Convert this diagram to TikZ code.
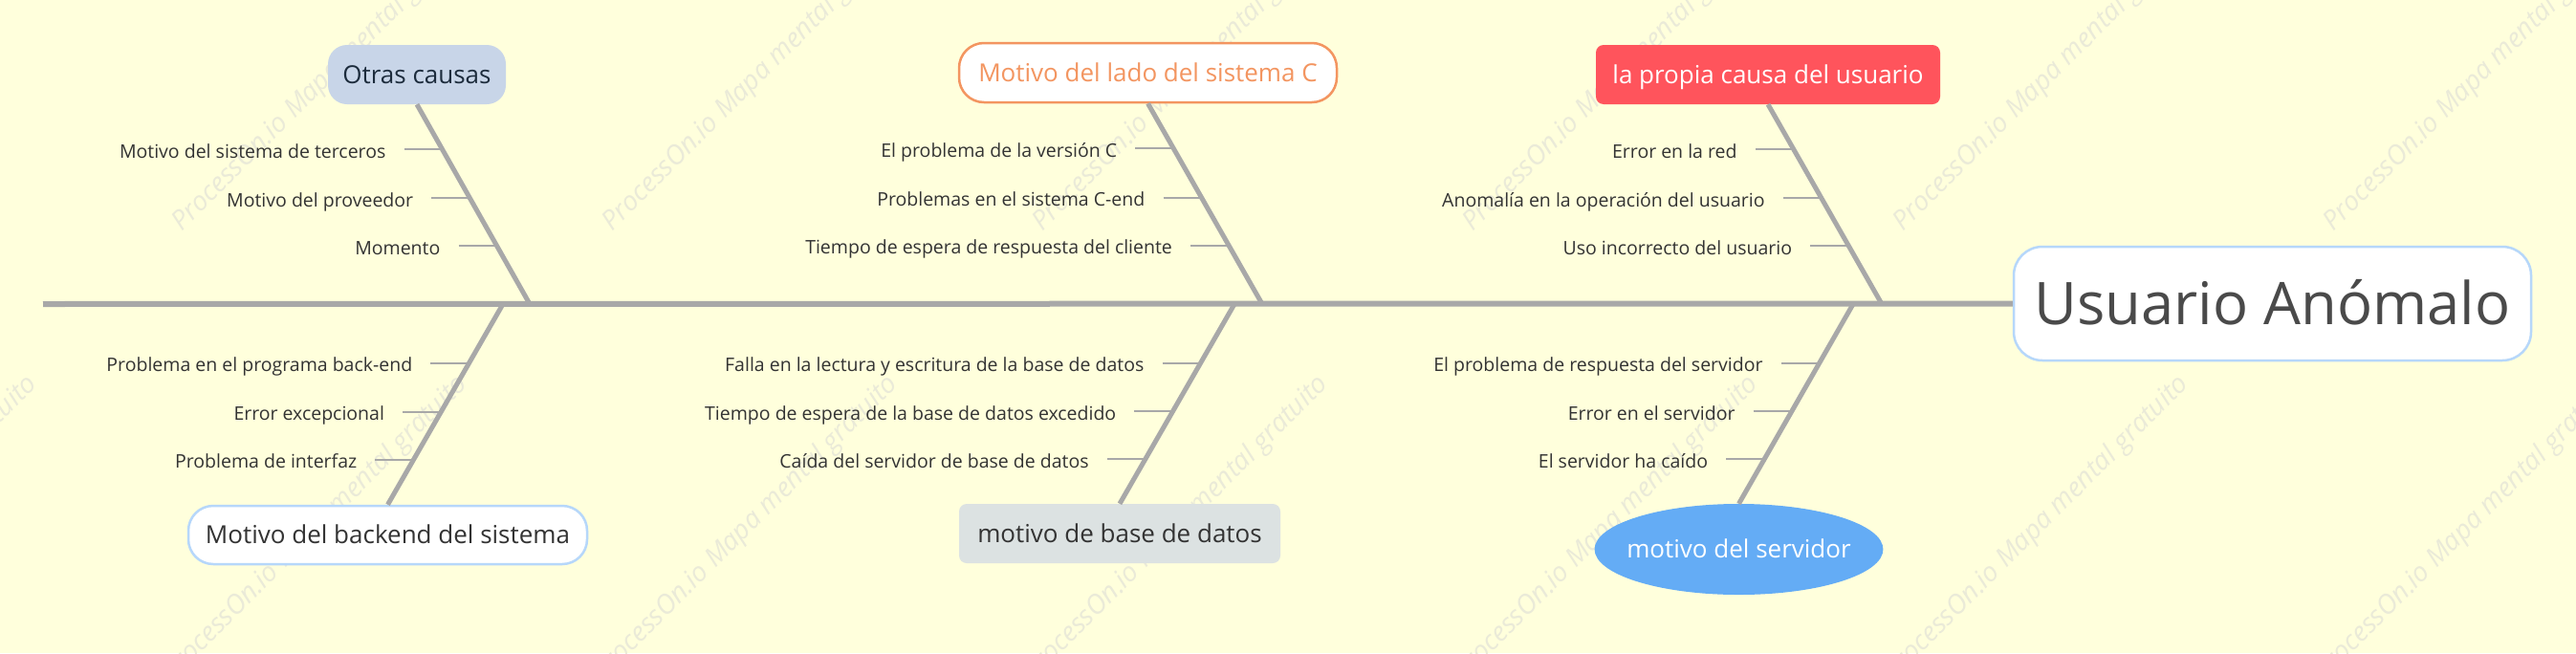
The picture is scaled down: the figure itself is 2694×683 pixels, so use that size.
\documentclass[tikz,border=0pt]{standalone}
\usepackage{fontspec}
\setmainfont{Open Sans}
\usetikzlibrary{calc,shapes.geometric}
\definecolor{bg}{HTML}{FFFFDC}
\definecolor{bonegray}{HTML}{A8A8A8}
\definecolor{labeltext}{HTML}{333333}
\definecolor{otrasfill}{HTML}{C8D5E8}
\definecolor{otrastext}{HTML}{1C2B3C}
\definecolor{orange1}{HTML}{F39560}
\definecolor{redfill}{HTML}{FF545C}
\definecolor{blueborder}{HTML}{B6D7FA}
\definecolor{dbfill}{HTML}{DCE2E2}
\definecolor{servfill}{HTML}{64ACF5}
\definecolor{headtext}{HTML}{4A4A4A}
\definecolor{boxtext}{HTML}{333333}
\definecolor{wmcolor}{HTML}{EAEAD8}
\begin{document}
\begin{tikzpicture}[x=1pt,y=-1pt,
  bone/.style={draw=bonegray, line width=5pt},
  spine/.style={draw=bonegray, line width=6pt},
  tickline/.style={draw=bonegray, line width=2pt},
  lbl/.style={font=\fontsize{19.5}{23}\selectfont, text=labeltext, inner sep=0pt, anchor=base east},
  cat/.style={font=\fontsize{26}{30}\selectfont, inner sep=0pt, text height=18.6pt, text depth=0pt, align=center},
  wm/.style={font=\itshape\fontsize{28}{32}\selectfont, text=wmcolor, rotate=45, anchor=south west, inner sep=0pt}
]
\fill[bg] (0,0) rectangle (2694,683);
\useasboundingbox (0,0) rectangle (2694,683);
% watermarks
\foreach \k in {-1,0,1,2,3,4,5} {
  \node[wm] (wmt\k) at ({195+450*\k},248) {ProcessOn.io Mapa mental gratuito};
  \node[wm] (wmb\k) at ({185+450*\k},718) {ProcessOn.io Mapa mental gratuito};
}
% category nodes
\node[cat, fill=otrasfill, text=otrastext, rounded corners=20pt, minimum width=186pt, minimum height=62pt] (otras) at (436,78) {Otras causas};
\node[cat, fill=white, draw=orange1, line width=2.5pt, text=orange1, rounded corners=26pt, minimum width=395pt, minimum height=62pt] (ladoc) at (1200.5,76) {Motivo del lado del sistema C};
\node[cat, fill=redfill, text=white, rounded corners=8pt, minimum width=360pt, minimum height=62pt] (propia) at (1849,78) {la propia causa del usuario};
\node[cat, fill=white, draw=blueborder, line width=2.5pt, text=boxtext, rounded corners=26pt, minimum width=417pt, minimum height=61pt] (backend) at (405.5,559.5) {Motivo del backend del sistema};
\node[cat, fill=dbfill, text=boxtext, rounded corners=8pt, minimum width=336pt, minimum height=62pt] (db) at (1171,558) {motivo de base de datos};
\node[cat, ellipse, fill=servfill, text=white, inner xsep=-10.5pt, inner ysep=24.3pt] (serv) at (1818.5,574.5) {motivo del servidor};
\node[font=\fontsize{61.5}{70}\selectfont, text height=44pt, text depth=0pt, inner sep=0pt, fill=white, draw=blueborder, line width=2.5pt, text=headtext, rounded corners=30pt, minimum width=541pt, minimum height=119pt] (head) at (2376.5,317.5) {Usuario Anómalo};
% spine
\coordinate (tail) at (45,318);
\draw[spine] (tail) -- (head.west);
% junctions
\coordinate (j1) at (554,318);
\coordinate (j2) at (1320,318);
\coordinate (j3) at (1968,318);
\coordinate (k1) at (526,318);
\coordinate (k2) at (1291,318);
\coordinate (k3) at (1938,318);
% bones
\draw[bone] (otras.south) -- (j1);
\draw[bone] (ladoc.south) -- (j2);
\draw[bone] (propia.south) -- (j3);
\draw[bone] (k1) -- (backend.north);
\draw[bone] (k2) -- (db.north);
\draw[bone] (k3) -- (serv.north);
% tick points
\path (otras.south) -- (j1) coordinate[pos=0.225] (a1) coordinate[pos=0.469] (a2) coordinate[pos=0.708] (a3);
\path (ladoc.south) -- (j2) coordinate[pos=0.225] (b1) coordinate[pos=0.469] (b2) coordinate[pos=0.708] (b3);
\path (propia.south) -- (j3) coordinate[pos=0.225] (c1) coordinate[pos=0.469] (c2) coordinate[pos=0.708] (c3);
\path (k1) -- (backend.north) coordinate[pos=0.295] (d1) coordinate[pos=0.538] (d2) coordinate[pos=0.776] (d3);
\path (k2) -- (db.north) coordinate[pos=0.295] (e1) coordinate[pos=0.538] (e2) coordinate[pos=0.776] (e3);
\path (k3) -- (serv.north) coordinate[pos=0.295] (f1) coordinate[pos=0.538] (f2) coordinate[pos=0.776] (f3);
\foreach \p in {a1,a2,a3,b1,b2,b3,c1,c2,c3,d1,d2,d3,e1,e2,e3,f1,f2,f3} {
  \draw[tickline] ([xshift=-40pt]\p) -- (\p);
}
% labels
\node[lbl] (la1) at ($(a1)+(-59,9)$) {Motivo del sistema de terceros};
\node[lbl] (la2) at ($(a2)+(-59,9)$) {Motivo del proveedor};
\node[lbl] (la3) at ($(a3)+(-59,9)$) {Momento};
\node[lbl] (lb1) at ($(b1)+(-59,9)$) {El problema de la versión C};
\node[lbl] (lb2) at ($(b2)+(-59,9)$) {Problemas en el sistema C-end};
\node[lbl] (lb3) at ($(b3)+(-59,9)$) {Tiempo de espera de respuesta del cliente};
\node[lbl] (lc1) at ($(c1)+(-59,9)$) {Error en la red};
\node[lbl] (lc2) at ($(c2)+(-59,9)$) {Anomalía en la operación del usuario};
\node[lbl] (lc3) at ($(c3)+(-59,9)$) {Uso incorrecto del usuario};
\node[lbl] (ld1) at ($(d1)+(-59,9)$) {Problema en el programa back-end};
\node[lbl] (ld2) at ($(d2)+(-59,9)$) {Error excepcional};
\node[lbl] (ld3) at ($(d3)+(-59,9)$) {Problema de interfaz};
\node[lbl] (le1) at ($(e1)+(-59,9)$) {Falla en la lectura y escritura de la base de datos};
\node[lbl] (le2) at ($(e2)+(-59,9)$) {Tiempo de espera de la base de datos excedido};
\node[lbl] (le3) at ($(e3)+(-59,9)$) {Caída del servidor de base de datos};
\node[lbl] (lf1) at ($(f1)+(-59,9)$) {El problema de respuesta del servidor};
\node[lbl] (lf2) at ($(f2)+(-59,9)$) {Error en el servidor};
\node[lbl] (lf3) at ($(f3)+(-59,9)$) {El servidor ha caído};
\end{tikzpicture}
\end{document}
